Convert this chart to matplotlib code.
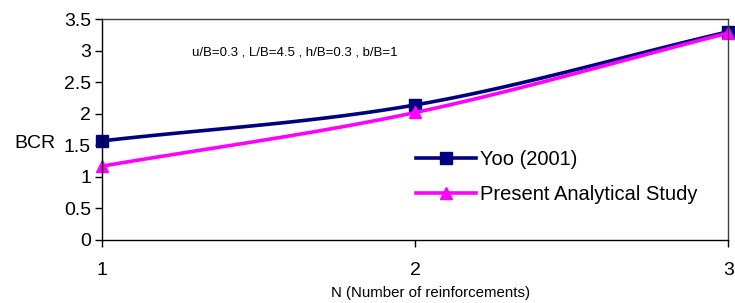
import numpy as np
import matplotlib.pyplot as plt

plt.rcParams['font.family'] = ['Liberation Sans', 'DejaVu Sans']

# datos
n_refuerzos = [1, 2, 3]
yoo_2001 = [1.57, 2.14, 3.30]
estudio_analitico = [1.17, 2.02, 3.28]
texto_params = "u/B=0.3 , L/B=4.5 , h/B=0.3 , b/B=1"


def suavizar(x, y, pasos=40):
    # curva tipo Catmull-Rom (como la linea suavizada de Excel)
    x = np.asarray(x, float)
    y = np.asarray(y, float)
    px = np.concatenate([[2 * x[0] - x[1]], x, [2 * x[-1] - x[-2]]])
    py = np.concatenate([[2 * y[0] - y[1]], y, [2 * y[-1] - y[-2]]])
    xs, ys = [], []
    t = np.linspace(0, 1, pasos)
    for i in range(1, len(px) - 2):
        for p, out in ((px, xs), (py, ys)):
            p0, p1, p2, p3 = p[i - 1], p[i], p[i + 1], p[i + 2]
            out.extend(0.5 * (2 * p1 + (-p0 + p2) * t
                              + (2 * p0 - 5 * p1 + 4 * p2 - p3) * t ** 2
                              + (-p0 + 3 * p1 - 3 * p2 + p3) * t ** 3))
    return xs, ys


fig = plt.figure(figsize=(7.35, 3.03), dpi=100)
ax = fig.add_axes([0.139, 0.208, 0.852, 0.729])

azul = '#000080'
magenta = '#ff00ff'

sx, sy = suavizar(n_refuerzos, yoo_2001)
ax.plot(sx, sy, color=azul, lw=2.6, clip_on=False)
ax.plot(n_refuerzos, yoo_2001, ls='none', marker='s', ms=8, color=azul, clip_on=False)
sx, sy = suavizar(n_refuerzos, estudio_analitico)
ax.plot(sx, sy, color=magenta, lw=2.6, clip_on=False)
ax.plot(n_refuerzos, estudio_analitico, ls='none', marker='^', ms=9, color=magenta, clip_on=False)

# entradas de la leyenda
ax.plot([], [], color=azul, lw=2.6, marker='s', ms=8, label='Yoo (2001)')
ax.plot([], [], color=magenta, lw=2.6, marker='^', ms=9, label='Present Analytical Study')
ax.legend(loc='upper left', bbox_to_anchor=(0.472, 0.49), frameon=False,
          fontsize=14.5, handlelength=3.0, handletextpad=0.2, labelspacing=0.8)

ax.set_xlim(1, 3)
ax.set_ylim(0, 3.5)
ax.set_xticks(n_refuerzos)
ax.set_yticks(np.arange(0, 3.51, 0.5))
ax.set_yticklabels(['0', '0.5', '1', '1.5', '2', '2.5', '3', '3.5'])
ax.tick_params(labelsize=14, length=5, width=1, direction='out', pad=3)
ax.tick_params(axis='x', pad=11)

for lado in ['top', 'right']:
    ax.spines[lado].set_color('#404040')
for lado in ax.spines.values():
    lado.set_linewidth(1)

ax.text(0.143, 0.835, texto_params, transform=ax.transAxes, fontsize=9.5)
fig.text(0.019, 0.525, 'BCR', fontsize=14, va='center')
ax.set_xlabel('N (Number of reinforcements)', fontsize=10.8)
ax.xaxis.set_label_coords(0.525, -0.21)

fig.savefig('out.png', dpi=100)
